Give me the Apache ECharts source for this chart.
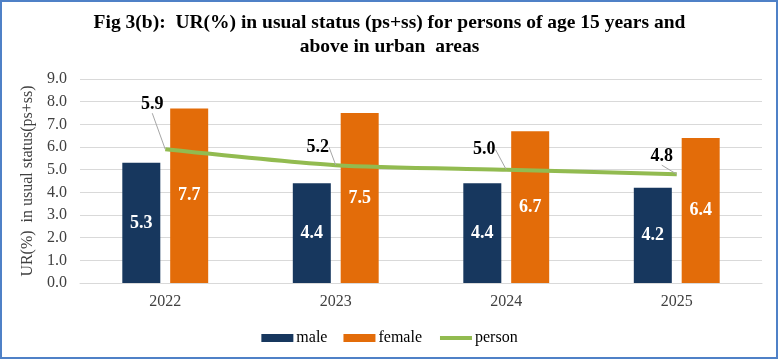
<!DOCTYPE html>
<html><head><meta charset="utf-8">
<script src="https://cdn.jsdelivr.net/npm/echarts@6/dist/echarts.min.js"></script>
<style>html,body{margin:0;padding:0;background:#fff}#c{width:779px;height:360px}</style>
</head><body><div id="c"></div>
<script>
var years = ['2022', '2023', '2024', '2025'];
var male = [5.3, 4.4, 4.4, 4.2];
var female = [7.7, 7.5, 6.7, 6.4];
var person = [5.9, 5.2, 5.0, 4.8];
var yTicks = [0, 1, 2, 3, 4, 5, 6, 7, 8, 9];

// label displacement for the person line labels (styling)
var personLabelShift = [[-13, -32], [-18, -5], [-22, -7], [-15, -5]];

var serif = '"Liberation Serif", "Times New Roman", serif';
var chart = echarts.init(document.getElementById('c'), null, {renderer: 'canvas'});
chart.setOption({
  animation: false,
  backgroundColor: '#fff',
  title: {
    text: 'Fig 3(b):  UR(%) in usual status (ps+ss) for persons of age 15 years and\nabove in urban  areas',
    left: 'center', top: 6,
    textStyle: {fontFamily: serif, fontWeight: 'bold', fontSize: 19.5, color: '#000', lineHeight: 24}
  },
  graphic: [{type: 'rect', shape: {x: 1, y: 1, width: 776, height: 357}, style: {fill: 'none', stroke: '#4F81C7', lineWidth: 2}, silent: true}],
  legend: {
    bottom: 9, left: 'center', itemGap: 16, itemWidth: 32, itemHeight: 8,
    textStyle: {fontFamily: serif, fontSize: 16, color: '#000', padding: [0, 0, 0, -2]},
    data: [{name: 'male', icon: 'rect'}, {name: 'female', icon: 'rect'},
           {name: 'person', itemStyle: {opacity: 0}, lineStyle: {width: 4, color: '#92BB50'}}]
  },
  grid: {left: 80, right: 17, top: 79, bottom: 77},
  xAxis: {
    type: 'category', data: years,
    axisLine: {lineStyle: {color: '#D9D9D9'}}, axisTick: {show: false},
    axisLabel: {fontFamily: serif, fontSize: 16, color: '#404040', margin: 11}
  },
  yAxis: {
    type: 'value', min: 0, max: 9, interval: 1,
    name: 'UR(%)  in usual status(ps+ss)', nameLocation: 'middle', nameGap: 42,
    nameTextStyle: {fontFamily: serif, fontSize: 16, color: '#404040'},
    axisLabel: {fontFamily: serif, fontSize: 16, color: '#404040', margin: 13,
      formatter: function (v) { return v.toFixed(1); }},
    splitLine: {lineStyle: {color: '#D9D9D9', width: 1}},
    axisLine: {show: false}, axisTick: {show: false}
  },
  series: [
    {name: 'male', type: 'bar', data: male, barWidth: 38, barGap: '26%',
     itemStyle: {color: '#17375E'},
     label: {show: true, position: 'inside', color: '#fff', fontFamily: serif, fontWeight: 'bold', fontSize: 18,
       formatter: function (p) { return p.value.toFixed(1); }}},
    {name: 'female', type: 'bar', data: female, barWidth: 38,
     itemStyle: {color: '#E36C09'},
     label: {show: true, position: 'inside', color: '#fff', fontFamily: serif, fontWeight: 'bold', fontSize: 18,
       formatter: function (p) { return p.value.toFixed(1); }}},
    {name: 'person', type: 'line', data: person, smooth: 0.25, showSymbol: true, symbol: 'circle', symbolSize: 0.1,
     lineStyle: {color: '#92BB50', width: 4}, itemStyle: {color: '#92BB50'},
     z: 5,
     label: {show: true, position: 'top', distance: 4, color: '#000', fontFamily: serif, fontWeight: 'bold', fontSize: 18,
       formatter: function (p) { return p.value.toFixed(1); }},
     labelLine: {show: true, lineStyle: {color: '#A6A6A6', width: 1}},
     labelLayout: function (p) {
       var s = personLabelShift[p.dataIndex];
       return {dx: s[0], dy: s[1]};
     }}
  ]
});
</script></body></html>
